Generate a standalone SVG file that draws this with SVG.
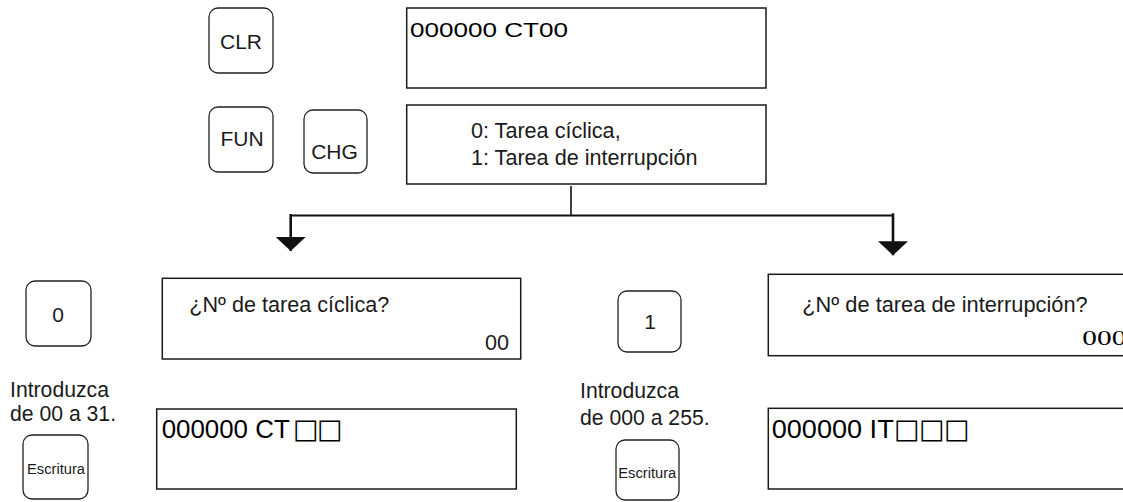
<svg xmlns="http://www.w3.org/2000/svg" width="1123" height="502" viewBox="0 0 1123 502">
<style>
  .key { fill: #fff; stroke: #222; stroke-width: 1.3; }
  .disp { fill: #fff; stroke: #1a1a1a; stroke-width: 1.5; }
  .t { font-family: "Liberation Sans", Arial, sans-serif; fill: #1a1a1a; }
  .kt { font-size: 21px; text-anchor: middle; }
  .lcd { font-family: "Liberation Sans", Arial, sans-serif; fill: #000; }
  .sq { font-family: "DejaVu Sans", sans-serif; }
  .conn { fill: none; stroke: #111; }
</style>
<defs>
  <marker id="ah" markerUnits="userSpaceOnUse" viewBox="-14 -15 14 30" markerWidth="14" markerHeight="30" refX="0" refY="0" orient="auto">
    <path d="M0,0 L-14,-15 L-14,15 Z" fill="#111"/>
  </marker>
</defs>
<rect width="1123" height="502" fill="#fff"/>

<g id="key-clr">
  <rect class="key" x="209" y="8" width="64" height="65" rx="9"/>
  <text class="t kt" x="241" y="49">CLR</text>
</g>
<g id="key-fun">
  <rect class="key" x="209" y="107" width="64" height="65" rx="9"/>
  <text class="t kt" x="242" y="146">FUN</text>
</g>
<g id="key-chg">
  <rect class="key" x="304" y="110" width="63" height="63" rx="9"/>
  <text class="t kt" x="334.5" y="159">CHG</text>
</g>
<g id="disp-ct00">
  <rect class="disp" x="406.7" y="8" width="359.3" height="80"/>
  <text class="lcd" x="410" y="37" font-size="20" textLength="158" lengthAdjust="spacingAndGlyphs">000000 CT00</text>
</g>
<g id="disp-select">
  <rect class="disp" x="406.7" y="105" width="359.3" height="79"/>
  <text class="t" x="471" y="138" font-size="21.6">0: Tarea cíclica,</text>
  <text class="t" x="471" y="165" font-size="21.6">1: Tarea de interrupción</text>
</g>

<g id="connectors">
  <path class="conn" stroke-width="1.6" d="M571,186 V215.5"/>
  <path class="conn" stroke-width="1.8" d="M290.7,215.5 H893"/>
  <path class="conn" stroke-width="2.6" d="M290.7,214 V251" marker-end="url(#ah)"/>
  <path class="conn" stroke-width="2.6" d="M893,213.3 V255.3" marker-end="url(#ah)"/>
</g>

<g id="key-0">
  <rect class="key" x="26" y="281" width="65" height="65" rx="9"/>
  <text class="t kt" x="58" y="321.7">0</text>
</g>
<g id="disp-cyclic">
  <rect class="disp" x="162.3" y="278.3" width="358.4" height="80.7"/>
  <text class="t" x="189.3" y="311.7" font-size="21.6">¿Nº de tarea cíclica?</text>
  <text class="t" x="509" y="350" font-size="21.6" text-anchor="end">00</text>
</g>
<g id="label-cyclic">
  <text class="t" x="10" y="396.7" font-size="21.2">Introduzca</text>
  <text class="t" x="10" y="420.7" font-size="21.2">de 00 a 31.</text>
</g>
<g id="key-write-left">
  <rect class="key" x="23" y="435" width="65" height="64" rx="9"/>
  <text class="t" x="56" y="474" font-size="14.7" text-anchor="middle">Escritura</text>
</g>
<g id="disp-ct-entry">
  <rect class="disp" x="156.7" y="409" width="359.6" height="80"/>
  <text class="lcd" x="161.7" y="438.3" font-size="25"><tspan textLength="128" lengthAdjust="spacingAndGlyphs">000000 CT</tspan><tspan class="sq" x="293" font-size="27">□</tspan><tspan class="sq" x="317" font-size="27">□</tspan></text>
</g>

<g id="key-1">
  <rect class="key" x="618" y="291" width="63" height="61" rx="9"/>
  <text class="t kt" x="650" y="329">1</text>
</g>
<g id="disp-interrupt">
  <rect class="disp" x="768.3" y="274.3" width="400" height="81.4"/>
  <text class="t" x="802.3" y="311.7" font-size="21.8">¿Nº de tarea de interrupción?</text>
  <text x="1082.3" y="345" font-family="Liberation Serif, Times New Roman, serif" font-size="22" fill="#000" textLength="44" lengthAdjust="spacingAndGlyphs">000</text>
</g>
<g id="label-interrupt">
  <text class="t" x="580" y="398.3" font-size="21.2">Introduzca</text>
  <text class="t" x="580" y="425" font-size="21.2">de 000 a 255.</text>
</g>
<g id="key-write-right">
  <rect class="key" x="616" y="440" width="63" height="60" rx="9"/>
  <text class="t" x="647.3" y="478.3" font-size="14.7" text-anchor="middle">Escritura</text>
</g>
<g id="disp-it-entry">
  <rect class="disp" x="768.3" y="408.3" width="400" height="80.7"/>
  <text class="lcd" x="771.7" y="438.3" font-size="25"><tspan textLength="122" lengthAdjust="spacingAndGlyphs">000000 IT</tspan><tspan class="sq" x="894" font-size="27">□</tspan><tspan class="sq" x="919" font-size="27">□</tspan><tspan class="sq" x="944" font-size="27">□</tspan></text>
</g>
</svg>
